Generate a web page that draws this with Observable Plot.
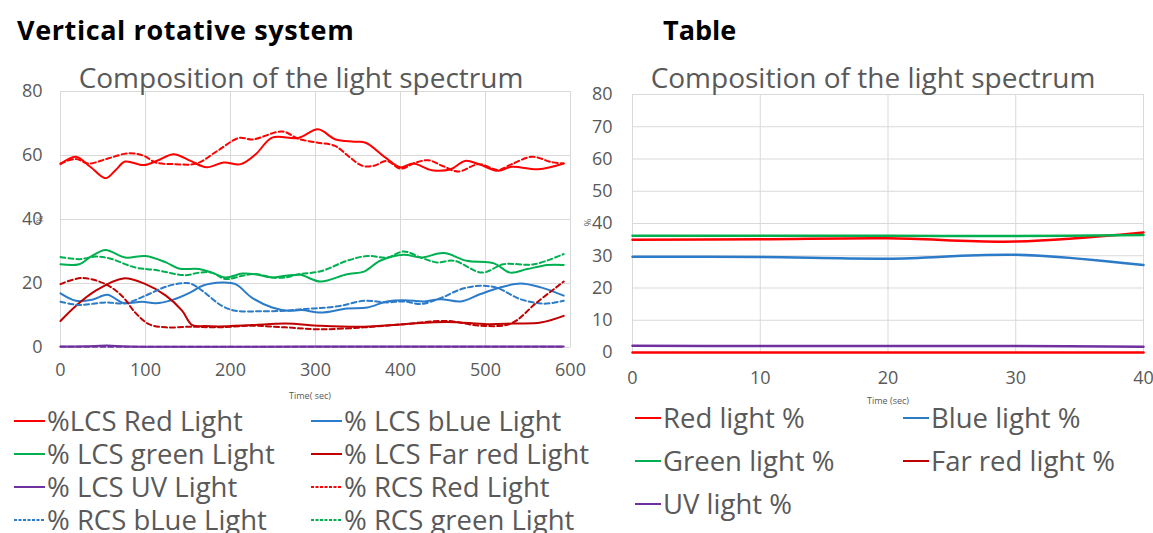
<!DOCTYPE html>
<html>
<head>
<meta charset="utf-8">
<script src="https://cdn.jsdelivr.net/npm/d3@7"></script>
<script src="https://cdn.jsdelivr.net/npm/@observablehq/plot@0.6"></script>
<style>
  html, body { margin: 0; padding: 0; background: #fff; }
  #root { position: relative; width: 1153px; height: 533px; overflow: hidden; background: #fff; font-family: "Open Sans", sans-serif; color: #595959; }
  .abs { position: absolute; white-space: nowrap; line-height: 1; }
  .main-title { font-weight: bold; font-size: 27px; color: #000; }
  .chart-title { font-size: 28px; color: #595959; transform: translateX(-50%); }
  .axis-label { font-size: 9px; color: #595959; transform: translateX(-50%); }
  .pct { font-size: 9px; color: #595959; transform: rotate(-90deg); transform-origin: center; }
  .leg { display: flex; align-items: center; font-size: 27.5px; color: #595959; height: 24px; }
  .leg svg { margin-right: 2px; flex: none; }
  .leg span { display: inline-block; height: 24px; line-height: 24px; overflow: visible; }
</style>
</head>
<body>
<div id="root"></div>
<script>
// ---------- Left chart: Vertical rotative system (time in sec, value in %) ----------
const lcsRed = [[0,57.3],[18,59.6],[35,56.5],[53,52.9],[65,55.5],[76,58.1],[98,57],[115,58.5],[133,60.4],[153,58.3],[172,56.3],[192,57.8],[212,57.3],[230,60.5],[249,65.6],[280,65.5],[303,68.2],[323,65.1],[345,64.3],[359,64],[382,59.4],[400,56.3],[415,57.5],[437,55.4],[459,55.7],[476,58.3],[492,57.3],[515,55.2],[531,56.5],[562,55.7],[592,57.5]];
const lcsBlue = [[0,16.9],[18,14.6],[37,14.9],[55,16.5],[74,13.9],[96,14.3],[112,13.8],[131,14.8],[153,17.2],[167,19.3],[190,20.3],[206,19.8],[225,15.6],[249,12.5],[268,11.5],[284,11.7],[306,10.9],[337,12.2],[361,12.5],[384,14.4],[404,14.8],[428,14.4],[447,15.1],[471,14.4],[494,16.7],[518,18.8],[541,20],[565,18.8],[592,16.2]];
const lcsGreen = [[0,26],[22,26],[37,28.6],[53,30.5],[76,28.1],[100,28.6],[124,26.6],[139,24.7],[163,24.5],[178,23.4],[194,21.9],[214,23.1],[229,22.9],[249,21.9],[265,22.4],[282,22.7],[306,20.6],[337,22.9],[357,23.7],[376,27.1],[404,29],[424,28.1],[451,29.5],[478,27.1],[510,26.3],[529,23.4],[549,24.5],[573,25.8],[592,25.8]];
const lcsFarRed = [[0,8.3],[18,13],[41,17.7],[74,21.6],[100,19.8],[124,16.2],[143,11.5],[155,7],[170,6.7],[186,6.6],[225,7],[265,7.5],[306,6.8],[357,6.5],[404,7.3],[455,8],[502,7.3],[533,7.5],[565,7.8],[592,9.9]];
const lcsUV = [[0,0.3],[30,0.4],[55,0.6],[80,0.3],[300,0.3],[592,0.3]];
const rcsRed = [[0,57.5],[18,58.9],[33,57.5],[55,59],[80,60.7],[98,59.9],[112,57.8],[135,57.3],[160,57.5],[185,61.5],[210,65.5],[226,65],[261,67.5],[280,65.2],[303,64],[323,63],[340,59.5],[355,56.8],[369,56.8],[384,58.3],[400,55.9],[418,57.8],[433,58.5],[449,56.8],[468,55],[492,57.3],[515,55.5],[531,57.3],[555,59.6],[578,57.9],[592,57.5]];
const rcsBlue = [[0,14.3],[22,13.3],[53,14.1],[76,13.8],[100,16.2],[124,19],[143,20.1],[153,20],[167,17.7],[190,13],[206,11.5],[233,11.3],[265,11.5],[284,12],[304,12.3],[329,13],[357,14.6],[384,14.1],[404,14.4],[424,13.6],[447,15.4],[471,18.2],[494,19.3],[514,18.6],[541,15.1],[569,13.7],[592,14.6]];
const rcsGreen = [[0,28.3],[22,27.6],[41,28.4],[57,27.9],[88,25],[112,24.2],[147,22.6],[163,23.4],[178,23.4],[194,21.4],[214,22.4],[229,23],[249,21.9],[265,21.9],[280,22.9],[306,23.8],[337,27.1],[361,28.6],[384,28.1],[404,30],[424,28.1],[443,26.6],[463,27.1],[496,23.4],[521,26],[557,26],[592,29.2]];
const rcsFarRed = [[0,19.8],[25,21.7],[53,19.8],[72,16.2],[88,10.9],[104,7.3],[124,6.3],[153,6.5],[186,6.3],[225,6.8],[265,6.3],[304,5.7],[357,6.3],[404,7.3],[455,8.3],[494,6.8],[530,7.5],[560,14],[592,20.6]];
const rcsUV = [[0,0.2],[300,0.2],[592,0.2]];
const leftXTicks = [0,100,200,300,400,500,600];
const leftYTicks = [0,20,40,60,80];

// ---------- Right chart: Table ----------
const tableTime = [0,10,20,30,40];
const tableRed = [35,35.1,35.4,34.4,37.2];
const tableBlue = [29.7,29.6,29.1,30.3,27.1];
const tableGreen = [36.2,36.2,36.2,36.1,36.4];
const tableFarRed = [0,0,0,0,0];
const tableUV = [2.1,2.0,2.0,2.0,1.8];
const rightXTicks = [0,10,20,30,40];
const rightYTicks = [0,10,20,30,40,50,60,70,80];

const C = {red: "#FF0000", blue: "#2B7BC8", green: "#00B050", farRed: "#C00000", uv: "#7030A0"};

const leftSeries = [
  {name: "%LCS Red Light", data: lcsRed, color: C.red, dash: null},
  {name: "% LCS bLue Light", data: lcsBlue, color: C.blue, dash: null},
  {name: "% LCS green Light", data: lcsGreen, color: C.green, dash: null},
  {name: "% LCS Far red Light", data: lcsFarRed, color: C.farRed, dash: null},
  {name: "% LCS UV Light", data: lcsUV, color: C.uv, dash: null},
  {name: "% RCS Red Light", data: rcsRed, color: C.red, dash: "5,3"},
  {name: "% RCS bLue Light", data: rcsBlue, color: C.blue, dash: "5,3"},
  {name: "% RCS green Light", data: rcsGreen, color: C.green, dash: "5,3"},
  {name: null, data: rcsFarRed, color: C.farRed, dash: "5,3"},
  {name: null, data: rcsUV, color: C.uv, dash: "5,3"}
];
const rightSeries = [
  {name: "Red light %", values: tableRed, color: C.red},
  {name: "Blue light %", values: tableBlue, color: C.blue},
  {name: "Green light %", values: tableGreen, color: C.green},
  {name: "Far red light %", values: tableFarRed, color: C.red},
  {name: "UV light %", values: tableUV, color: C.uv}
];

const root = document.getElementById("root");
function addDiv(cls, text, left, top, extra) {
  const d = document.createElement("div");
  d.className = "abs " + cls;
  d.textContent = text;
  d.style.left = left + "px";
  d.style.top = top + "px";
  if (extra) Object.assign(d.style, extra);
  root.appendChild(d);
  return d;
}

const axisStyle = {fontFamily: "Open Sans, sans-serif", fontSize: "18px", color: "#595959", background: "transparent", overflow: "visible"};

// Left plot
const leftPlot = Plot.plot({
  width: 600, height: 300,
  marginLeft: 60, marginRight: 30, marginTop: 11, marginBottom: 33,
  x: {domain: [0, 600], ticks: leftXTicks, tickSize: 0, tickPadding: 16, label: null},
  y: {domain: [0, 80], ticks: leftYTicks, tickSize: 0, tickPadding: 18, label: null},
  style: axisStyle,
  marks: [
    Plot.gridX(leftXTicks, {stroke: "#d9d9d9", strokeOpacity: 1, strokeWidth: 1}),
    Plot.gridY(leftYTicks, {stroke: "#d9d9d9", strokeOpacity: 1, strokeWidth: 1}),
    ...leftSeries.map(s => Plot.line(s.data, {
      x: d => d[0], y: d => d[1], stroke: s.color, strokeWidth: 2,
      strokeDasharray: s.dash, curve: "catmull-rom"
    }))
  ]
});
leftPlot.style.position = "absolute";
leftPlot.style.left = "0px";
leftPlot.style.top = "80px";
root.appendChild(leftPlot);

// Right plot
const rightPlot = Plot.plot({
  width: 573, height: 310,
  marginLeft: 52, marginRight: 10, marginTop: 14, marginBottom: 38,
  x: {domain: [0, 40], ticks: rightXTicks, tickSize: 0, tickPadding: 19, label: null},
  y: {domain: [0, 80], ticks: rightYTicks, tickSize: 0, tickPadding: 20, label: null},
  style: axisStyle,
  marks: [
    Plot.gridX(rightXTicks, {stroke: "#d9d9d9", strokeOpacity: 1, strokeWidth: 1}),
    Plot.gridY(rightYTicks, {stroke: "#d9d9d9", strokeOpacity: 1, strokeWidth: 1}),
    ...rightSeries.map(s => Plot.line(tableTime.map((t, i) => ({t, v: s.values[i]})), {
      x: "t", y: "v", stroke: s.color, strokeWidth: 2.5, curve: "catmull-rom"
    }))
  ]
});
rightPlot.style.position = "absolute";
rightPlot.style.left = "580px";
rightPlot.style.top = "80px";
root.appendChild(rightPlot);

// Titles
addDiv("main-title", "Vertical rotative system", 17, 16, {letterSpacing: "0.6px"});
addDiv("main-title", "Table", 663, 16);
addDiv("chart-title", "Composition of the light spectrum", 301, 63);
addDiv("chart-title", "Composition of the light spectrum", 873, 63);
addDiv("axis-label", "Time( sec)", 310, 391);
addDiv("axis-label", "Time (sec)", 888, 396);
addDiv("pct", "%", 36, 215);
addDiv("pct", "%", 584, 218);

// Legends
function legendItem(text, color, dash, left, cy, swW) {
  const d = document.createElement("div");
  d.className = "abs leg";
  d.style.left = left + "px";
  d.style.top = (cy - 12) + "px";
  const ns = "http://www.w3.org/2000/svg";
  const svg = document.createElementNS(ns, "svg");
  svg.setAttribute("width", swW); svg.setAttribute("height", 4);
  const ln = document.createElementNS(ns, "line");
  ln.setAttribute("x1", 0); ln.setAttribute("x2", swW);
  ln.setAttribute("y1", 2); ln.setAttribute("y2", 2);
  ln.setAttribute("stroke", color); ln.setAttribute("stroke-width", 2);
  if (dash) ln.setAttribute("stroke-dasharray", "3,1.5");
  svg.appendChild(ln);
  d.appendChild(svg);
  const sp = document.createElement("span");
  sp.textContent = text;
  d.appendChild(sp);
  root.appendChild(d);
}
const leftLegendSeries = leftSeries.filter(s => s.name);
leftLegendSeries.forEach((s, i) => {
  const col = i % 2, row = Math.floor(i / 2);
  legendItem(s.name, s.color, s.dash, col === 0 ? 14 : 311, 421 + row * 33, 31);
});
rightSeries.forEach((s, i) => {
  const col = i % 2, row = Math.floor(i / 2);
  const color = s.name.startsWith("Far") ? C.farRed : s.color;
  legendItem(s.name, color, null, col === 0 ? 635 : 903, 418 + row * 43, 26);
});
</script>
</body>
</html>
